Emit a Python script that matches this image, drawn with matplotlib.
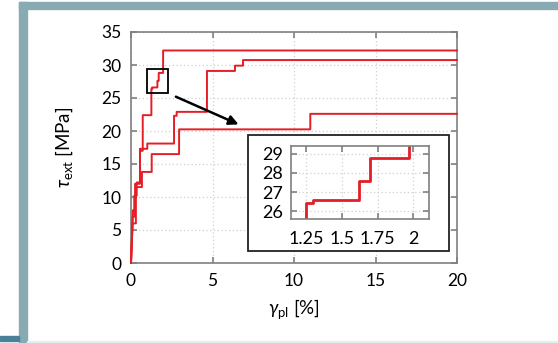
import numpy as np
import matplotlib
matplotlib.use("Agg")
import matplotlib.pyplot as plt
from matplotlib.patches import Rectangle

plt.rcParams["font.family"] = ["Lato", "DejaVu Sans"]
plt.rcParams["mathtext.fontset"] = "custom"
plt.rcParams["mathtext.rm"] = "Lato"
plt.rcParams["mathtext.it"] = "Lato:italic"

# ---- step curves: (strain where stress jumps, stress after jump) ----
a_x = [0.12, 0.25, 0.55, 0.72, 1.25, 1.30, 1.62, 1.70, 1.97]
a_y = [8.0, 12.0, 17.0, 22.4, 26.4, 26.6, 27.6, 28.8, 32.2]

b_x = [0.10, 0.20, 0.35, 0.55, 1.00, 2.64, 2.80, 4.66, 6.38, 6.87]
b_y = [7.0, 10.2, 12.2, 17.3, 18.1, 22.3, 22.9, 29.1, 29.9, 30.75]

c_x = [0.10, 0.30, 0.67, 1.27, 2.95, 11.0]
c_y = [6.0, 11.5, 13.8, 16.5, 20.25, 22.6]

x_ticks = [0, 5, 10, 15, 20]
y_ticks = [0, 5, 10, 15, 20, 25, 30, 35]
inset_xticks = [1.25, 1.5, 1.75, 2.0]
inset_xlabels = ["1.25", "1.5", "1.75", "2"]
inset_yticks = [26, 27, 28, 29]

X_END = 20.0
RED = "#e41e26"
FRAME = "#87aab3"


def step_path(xs, ys, x_end):
    """Linear rise from origin to the first point, then hold/jump steps."""
    px, py = [0.0, xs[0]], [0.0, ys[0]]
    for i in range(1, len(xs)):
        px += [xs[i], xs[i]]
        py += [ys[i - 1], ys[i]]
    px.append(x_end)
    py.append(ys[-1])
    return np.array(px), np.array(py)


def style_axes(ax, size):
    for s in ax.spines.values():
        s.set_color("#808080")
        s.set_linewidth(1.2)
    ax.tick_params(direction="in", top=True, right=True, length=4.5,
                   width=1.2, color="#808080", labelsize=size, pad=7)
    ax.grid(True, linestyle=(0, (1, 2)), color="#d0d0d0", linewidth=0.9)
    ax.set_axisbelow(True)


fig = plt.figure(figsize=(5.58, 3.43), dpi=100)

# slide-style frame
fig.patches.append(Rectangle((19 / 558, 1 - 9 / 343), 1, 7 / 343, transform=fig.transFigure,
                             color=FRAME, zorder=0))
fig.patches.append(Rectangle((19 / 558, 0), 8 / 558, 1 - 2 / 343, transform=fig.transFigure,
                             color=FRAME, zorder=0))
fig.patches.append(Rectangle((0, 2 / 343), 19 / 558, 5 / 343, transform=fig.transFigure,
                             color="#4a8199", zorder=0))
fig.patches.append(Rectangle((27 / 558, 0), 1, 2 / 343, transform=fig.transFigure,
                             color="#e2eef0", zorder=0))

ax = fig.add_axes([131 / 558, 1 - 263 / 343, 326 / 558, 231 / 343])
style_axes(ax, 12.5)
for xs, ys in [(c_x, c_y), (b_x, b_y), (a_x, a_y)]:
    px, py = step_path(xs, ys, X_END)
    ax.plot(px, py, color=RED, linewidth=1.4, clip_on=False, zorder=3)
ax.set_xlim(0, 20)
ax.set_ylim(0, 35)
ax.set_xticks(x_ticks)
ax.set_yticks(y_ticks)
ax.set_xlabel(r"$\mathit{\gamma}_{\mathrm{pl}}$ [%]", fontsize=13.5, labelpad=6)
ax.set_ylabel(r"$\tau_{\mathrm{ext}}$ [MPa]", fontsize=13.5, labelpad=19)

# zoom marker and arrow
ax.add_patch(Rectangle((1.0, 25.7), 1.27, 3.7, fill=False, edgecolor="black",
                       linewidth=1.3, zorder=4))
ax.annotate("", xy=(6.6, 21.0), xytext=(2.75, 25.2),
            arrowprops=dict(arrowstyle="-|>", color="black", lw=1.8,
                            mutation_scale=14, shrinkA=0, shrinkB=0), zorder=4)

# inset frame + inset axes
fig.patches.append(Rectangle((248 / 558, 1 - 251 / 343), 201 / 558, 116 / 343,
                             transform=fig.transFigure, facecolor="white",
                             edgecolor="#222222", linewidth=1.3, zorder=5))
ins = fig.add_axes([291 / 558, 1 - 219 / 343, 138 / 558, 73 / 343], zorder=6)
style_axes(ins, 13)
ins.tick_params(pad=6, length=4)
px, py = step_path(a_x, a_y, X_END)
ins.plot(px, py, color=RED, linewidth=2.0)
ins.set_xlim(1.145, 2.11)
ins.set_ylim(25.58, 29.42)
ins.set_xticks(inset_xticks)
ins.set_xticklabels(inset_xlabels)
ins.set_yticks(inset_yticks)
ins.tick_params(axis="x", pad=9)

fig.savefig("out.png", dpi=100)
